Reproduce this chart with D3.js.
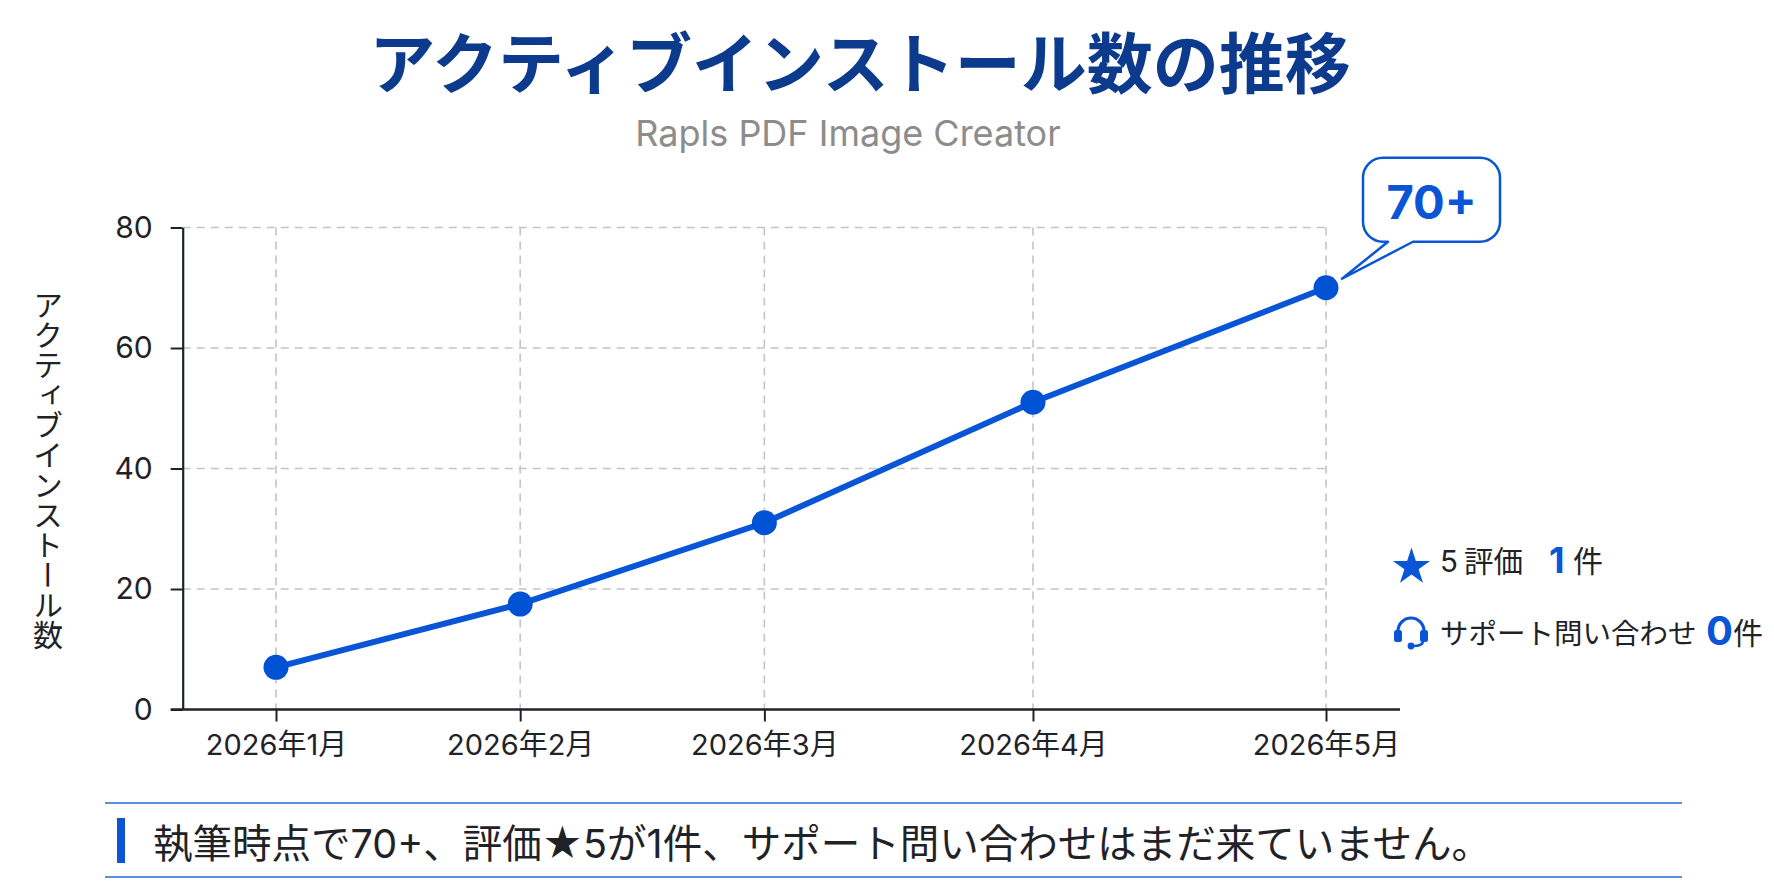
<!DOCTYPE html>
<html>
<head>
<meta charset="utf-8">
<script src="https://cdn.jsdelivr.net/npm/d3@7"></script>
<style>
  html, body { margin:0; padding:0; background:#ffffff; }
  svg { display:block; }
  text { font-family: Inter, "Noto Sans CJK JP", sans-serif; }
</style>
</head>
<body>
<svg id="chart" width="1774" height="887"></svg>
<script>
// ---- data ----
const months = ["2026年1月", "2026年2月", "2026年3月", "2026年4月", "2026年5月"];
const monthOffsets = [0, 1, 2, 3.1, 4.3];   // relative horizontal placement
const installs = [7, 17.5, 31, 51, 70];
const yTicks = [0, 20, 40, 60, 80];
const titleText = "アクティブインストール数の推移";
const subtitleText = "Rapls PDF Image Creator";
const yAxisTitle = "アクティブインストール数";
const calloutText = "70+";
const ratingStars = "5";
const ratingLabel = "評価";
const ratingCount = "1";
const supportLabel = "サポート問い合わせ";
const supportCount = "0";
const unitLabel = "件";
const footerText = "執筆時点で70+、評価★5が1件、サポート問い合わせはまだ来ていません。";

// ---- styles ----
const BLUE = "#0a55d6";
const NAVY = "#0c3a8c";
const DARK = "#1f2328";
const GRID = "#c4c4c4";
const FONT = "Inter, 'Noto Sans CJK JP', sans-serif";

const svg = d3.select("#chart");

const x = d3.scaleLinear().domain([0, d3.max(monthOffsets)]).range([276, 1326]);
const y = d3.scaleLinear().domain([0, 80]).range([709.5, 227.5]);
const axisLeftX = 182.7, axisStartX = 170.7, axisEndX = 1400;

// title
svg.append("text").attr("x", 860).attr("y", 88).attr("text-anchor", "middle")
  .style("font-family", "'Noto Sans CJK JP', sans-serif")
  .attr("font-size", 66).attr("font-weight", 700).attr("fill", NAVY).text(titleText);
svg.append("text").attr("x", 848).attr("y", 146).attr("text-anchor", "middle")
  .attr("font-size", 36).attr("fill", "#8c8c8c").text(subtitleText);

// grid
const grid = svg.append("g");
grid.selectAll("line.h").data(yTicks.filter(d => d > 0)).join("line")
  .attr("x1", axisLeftX).attr("x2", x(d3.max(monthOffsets)))
  .attr("y1", d => y(d)).attr("y2", d => y(d))
  .attr("stroke", GRID).attr("stroke-width", 1.6).attr("stroke-dasharray", "8,6");
grid.selectAll("line.v").data(monthOffsets).join("line")
  .attr("x1", d => x(d)).attr("x2", d => x(d))
  .attr("y1", y(80)).attr("y2", y(0))
  .attr("stroke", GRID).attr("stroke-width", 1.6).attr("stroke-dasharray", "8,6");

// y axis
const yAxis = svg.append("g").attr("transform", `translate(${axisLeftX},0)`)
  .call(d3.axisLeft(y).tickValues(yTicks).tickSize(12).tickSizeOuter(0).tickPadding(18));
yAxis.select(".domain").attr("stroke", DARK).attr("stroke-width", 2.2);
yAxis.selectAll(".tick line").attr("stroke", DARK).attr("stroke-width", 2);
yAxis.selectAll(".tick text").attr("font-size", 30).attr("fill", DARK).style("font-family", FONT);

// x axis
const xAxis = svg.append("g").attr("transform", `translate(0,${y(0)})`)
  .call(d3.axisBottom(x).tickValues(monthOffsets).tickFormat((d, i) => months[i])
    .tickSize(12).tickSizeOuter(0).tickPadding(13));
xAxis.select(".domain").remove();
xAxis.selectAll(".tick line").attr("stroke", DARK).attr("stroke-width", 2);
xAxis.selectAll(".tick text").attr("font-size", 29).attr("fill", DARK).style("font-family", FONT);
svg.append("line").attr("x1", axisStartX).attr("x2", axisEndX)
  .attr("y1", y(0)).attr("y2", y(0)).attr("stroke", DARK).attr("stroke-width", 2.6);

// y axis title (vertical)
svg.append("text").attr("x", 48).attr("y", 470)
  .attr("text-anchor", "middle")
  .style("writing-mode", "vertical-rl").style("text-orientation", "upright")
  .style("font-family", "'Noto Sans CJK JP', sans-serif")
  .attr("font-size", 30).attr("fill", DARK).text(yAxisTitle);

// line + points
const pts = monthOffsets.map((m, i) => [m, installs[i]]);
svg.append("path").datum(pts)
  .attr("d", d3.line().x(d => x(d[0])).y(d => y(d[1])))
  .attr("fill", "none").attr("stroke", BLUE).attr("stroke-width", 6)
  .attr("stroke-linejoin", "round");
svg.selectAll("circle.pt").data(pts).join("circle")
  .attr("cx", d => x(d[0])).attr("cy", d => y(d[1])).attr("r", 12.5)
  .attr("fill", "#0052d4");

// callout
const last = pts[pts.length - 1];
const px = x(last[0]), py = y(last[1]);
const bx0 = px + 37, by0 = py - 130, bw = 137, bh = 84, r = 20;
const bx1 = bx0 + bw, by1 = by0 + bh;
const tipX = px + 16, tipY = py - 9;
const cp = `M${bx0 + r},${by0} H${bx1 - r} A${r},${r} 0 0 1 ${bx1},${by0 + r} V${by1 - r} A${r},${r} 0 0 1 ${bx1 - r},${by1}
  H${bx0 + 50} L${tipX},${tipY} L${bx0 + 25},${by1} H${bx0 + r} A${r},${r} 0 0 1 ${bx0},${by1 - r} V${by0 + r} A${r},${r} 0 0 1 ${bx0 + r},${by0} Z`;
svg.append("path").attr("d", cp).attr("fill", "#ffffff").attr("stroke", BLUE).attr("stroke-width", 2.5)
  .attr("stroke-linejoin", "round");
svg.append("text").attr("x", (bx0 + bx1) / 2).attr("y", by0 + 61).attr("text-anchor", "middle")
  .attr("font-size", 47).attr("font-weight", 700).attr("fill", BLUE).text(calloutText);

// side stats
const side = svg.append("g");
side.append("path").attr("d", d3.symbol(d3.symbolStar, 430)())
  .attr("transform", "translate(1411.5,567)").attr("fill", BLUE);
const r1 = side.append("text").attr("x", 1440).attr("y", 572).attr("font-size", 29.5).attr("fill", DARK);
r1.append("tspan").text(ratingStars);
r1.append("tspan").attr("dx", 6).text(ratingLabel);
side.append("text").attr("x", 1549).attr("y", 573).attr("font-size", 36).attr("font-weight", 700).attr("fill", BLUE).text(ratingCount);
side.append("text").attr("x", 1573).attr("y", 572).attr("font-size", 30).attr("fill", DARK).text(unitLabel);

// headset icon
const hx = 1411, hy = 632;
side.append("path").attr("d", `M${hx - 13},${hy + 2} V${hy - 1} A13,13 0 0 1 ${hx + 13},${hy - 1} V${hy + 2}`)
  .attr("fill", "none").attr("stroke", BLUE).attr("stroke-width", 3.2);
side.append("rect").attr("x", hx - 17).attr("y", hy - 2).attr("width", 8).attr("height", 12).attr("rx", 2.5).attr("fill", BLUE);
side.append("rect").attr("x", hx + 9).attr("y", hy - 2).attr("width", 8).attr("height", 12).attr("rx", 2.5).attr("fill", BLUE);
side.append("path").attr("d", `M${hx + 12},${hy + 9} Q${hx + 12},${hy + 14} ${hx + 2},${hy + 14}`)
  .attr("fill", "none").attr("stroke", BLUE).attr("stroke-width", 2.6);
side.append("circle").attr("cx", hx).attr("cy", hy + 14).attr("r", 3.4).attr("fill", BLUE);

side.append("text").attr("x", 1440).attr("y", 644).attr("font-size", 28.5).attr("fill", DARK).text(supportLabel);
side.append("text").attr("x", 1706).attr("y", 645).attr("font-size", 40).attr("font-weight", 700).attr("fill", BLUE).text(supportCount);
side.append("text").attr("x", 1733).attr("y", 644).attr("font-size", 30).attr("fill", DARK).text(unitLabel);

// footer
svg.append("line").attr("x1", 105).attr("x2", 1682).attr("y1", 803).attr("y2", 803)
  .attr("stroke", "#5a8fe3").attr("stroke-width", 2);
svg.append("line").attr("x1", 105).attr("x2", 1682).attr("y1", 877).attr("y2", 877)
  .attr("stroke", "#5a8fe3").attr("stroke-width", 2);
svg.append("rect").attr("x", 117).attr("y", 818).attr("width", 8).attr("height", 45).attr("fill", BLUE);
svg.append("text").attr("x", 153).attr("y", 858).attr("font-size", 39.5).attr("fill", DARK).text(footerText);
</script>
</body>
</html>
